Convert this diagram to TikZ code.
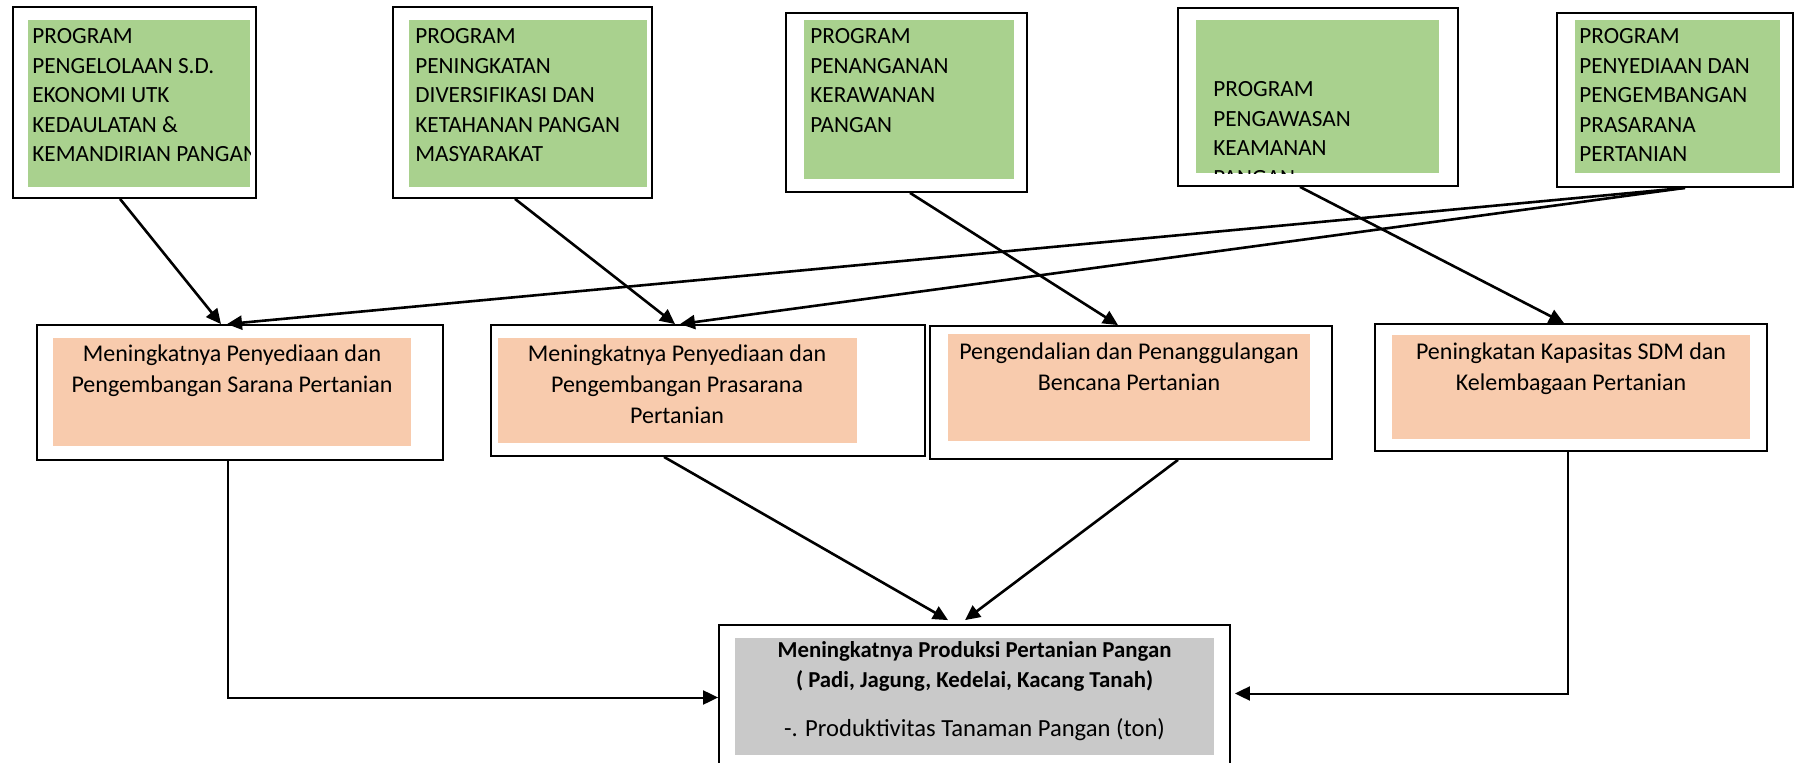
\documentclass[tikz,border=0pt]{standalone}
\usepackage{fontspec}
\setmainfont{Carlito}
\usetikzlibrary{positioning, arrows.meta, calc, fit}
\definecolor{progGreen}{HTML}{A9D18E}
\definecolor{resPeach}{HTML}{F8CBAD}
\definecolor{goalGray}{HTML}{C9C9C9}
\tikzset{
    % Box styles
    frame/.style={rectangle, draw, line width=0.9pt, fill=white, inner sep=0pt},
    prog fill/.style={rectangle, fill=progGreen, inner sep=0pt},
    res fill/.style={rectangle, fill=resPeach, inner sep=0pt},
    goal fill/.style={rectangle, fill=goalGray, inner sep=0pt},
    % Text styles
    prog text/.style={anchor=north west, inner sep=0pt, align=left,
                      font=\fontsize{11.6}{14.8}\selectfont},
    res text/.style={anchor=north, inner sep=0pt, align=center,
                     font=\fontsize{12}{15.5}\selectfont},
    % Arrow styles
    arrow/.style={-{Triangle[length=7.5pt, width=7pt]}, line width=1.3pt},
    thin arrow/.style={arrow, line width=1pt},
}

\begin{document}
\begin{tikzpicture}[x=0.5pt, y=-0.5pt]
    \useasboundingbox (0,0) rectangle (1807,763);
    \fill[white] (0,0) rectangle (1807,763);
    \clip (0,0) rectangle (1807,763);

    % Programs
    \node[frame, fit={(13,7) (256,198)}] (prog1) {};
    \node[frame, fit={(393,7) (652,198)}] (prog2) {};
    \node[frame, fit={(786,13) (1027,192)}] (prog3) {};
    \node[frame, fit={(1178,8) (1458,186)}] (prog4) {};
    \node[frame, fit={(1557,13) (1793,187)}] (prog5) {};
    \node[prog fill, fit={(28,20) (250,187)}] (pfill1) {};
    \node[prog fill, fit={(409,20) (647,187)}] (pfill2) {};
    \node[prog fill, fit={(804,20) (1014,179)}] (pfill3) {};
    \node[prog fill, fit={(1196,20) (1439,173)}] (pfill4) {};
    \node[prog fill, fit={(1575,20) (1780,173)}] (pfill5) {};

    \begin{scope}
        \clip (pfill1.south west) rectangle (pfill1.north east);
        \node[prog text] (ptext1) at (32,28) {PROGRAM\\PENGELOLAAN S.D.\\EKONOMI UTK\\KEDAULATAN \&\\KEMANDIRIAN PANGAN};
    \end{scope}
    \node[prog text] (ptext2) at (415,28) {PROGRAM\\PENINGKATAN\\DIVERSIFIKASI DAN\\KETAHANAN PANGAN\\MASYARAKAT};
    \node[prog text] (ptext3) at (810,28) {PROGRAM\\PENANGANAN\\KERAWANAN\\PANGAN};
    \begin{scope}
        \clip (pfill4.south west) rectangle (pfill4.north east);
        \node[prog text] (ptext4) at (1213,81) {PROGRAM\\PENGAWASAN\\KEAMANAN\\PANGAN};
    \end{scope}
    \node[prog text] (ptext5) at (1579,28) {PROGRAM\\PENYEDIAAN DAN\\PENGEMBANGAN\\PRASARANA\\PERTANIAN};

    % Results
    \node[frame, fit={(37,325) (443,460)}] (res1) {};
    \node[frame, fit={(491,325) (925,456)}] (res2) {};
    \node[frame, fit={(930,326) (1332,459)}] (res3) {};
    \node[frame, fit={(1375,324) (1767,451)}] (res4) {};
    \node[res fill, fit={(53,338) (411,446)}] (rfill1) {};
    \node[res fill, fit={(498,338) (857,443)}] (rfill2) {};
    \node[res fill, fit={(948,334) (1310,441)}] (rfill3) {};
    \node[res fill, fit={(1392,335) (1750,439)}] (rfill4) {};
    \node[res text] (rtext1) at (232,344) {Meningkatnya Penyediaan dan\\Pengembangan Sarana Pertanian};
    \node[res text] (rtext2) at (677,344) {Meningkatnya Penyediaan dan\\Pengembangan Prasarana\\Pertanian};
    \node[res text] (rtext3) at (1129,342) {Pengendalian dan Penanggulangan\\Bencana Pertanian};
    \node[res text] (rtext4) at (1571,342) {Peningkatan Kapasitas SDM dan\\Kelembagaan Pertanian};

    % Goal
    \node[frame, fit={(719,625) (1230,770)}] (goal) {};
    \node[goal fill, fit={(735,638) (1214,755)}] (gfill) {};
    \node[res text, font=\fontsize{12.3}{15}\selectfont] (gtext) at (974.5,641)
        {{\fontsize{11.4}{15}\selectfont\bfseries Meningkatnya Produksi Pertanian Pangan}\\{\fontsize{11.4}{15}\selectfont\bfseries ( Padi, Jagung, Kedelai, Kacang Tanah)}\\[9.5pt]-. Produktivitas Tanaman Pangan (ton)};

    % Arrows
    \draw[arrow] ([xshift=-7.25pt]prog1.south) -- ([xshift=-9.5pt]res1.north);
    \draw[arrow] ([xshift=-3.75pt]prog2.south) -- ([xshift=-16.5pt]res2.north);
    \draw[arrow] ([xshift=1.75pt]prog3.south) -- ([xshift=-6.5pt]res3.north);
    \draw[arrow] ([xshift=-9pt]prog4.south) -- ([xshift=-3.5pt]res4.north);
    \draw[arrow] ([xshift=5pt]prog5.south) -- ([xshift=-6.5pt]res1.north);
    \draw[arrow] ([xshift=5pt]prog5.south) -- ([xshift=-14pt]res2.north);

    \draw[thin arrow] ([xshift=-6pt]res1.south) |- ([yshift=0pt]goal.west);
    \draw[arrow] ([xshift=-22pt]res2.south) -- ([xshift=-13.25pt, yshift=2pt]goal.north);
    \draw[arrow] ([xshift=23.5pt]res3.south) -- ([xshift=-4.75pt, yshift=2pt]goal.north);
    \draw[thin arrow, shorten >=2pt] ([xshift=-1.5pt]res4.south) |- ([yshift=2pt]goal.east);
\end{tikzpicture}
\end{document}
